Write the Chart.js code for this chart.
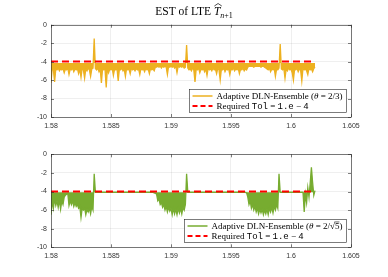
<!DOCTYPE html>
<html>
<head>
<meta charset="utf-8">
<script src="https://cdn.jsdelivr.net/npm/chart.js@4.4.1/dist/chart.umd.min.js"></script>
<style>
  html, body { margin: 0; padding: 0; background: #fff; }
  #wrap { position: relative; width: 388px; height: 277px; }
  #wrap canvas { position: absolute; left: 0; }
</style>
</head>
<body>
<div id="wrap">
  <canvas id="chartTop" width="388" height="140" style="top:0"></canvas>
  <canvas id="chartBot" width="388" height="137" style="top:140px"></canvas>
</div>
<script>
// sample grid of the time axis
const tStart = 1.58;
const tStep = 0.0001;

// EST of LTE, theta = 2/3 (one value per grid step)
const estTheta23 = [
  -6.3,-4.7,-4.9,-6.2,-4.8,-4.9,-4.7,-5.0,-4.8,-4.9,-4.75,-5.2,-4.8,-4.9,-4.7,-5.4,-4.8,-4.9,-4.7,-5.1,
  -4.8,-4.9,-4.75,-5.3,-4.8,-5.7,-4.7,-4.9,-5.8,-4.8,-5.0,-4.7,-4.9,-5.6,-4.8,-4.7,-1.5,-4.75,-4.9,-4.7,
  -5.1,-4.8,-6.3,-4.7,-4.9,-4.8,-6.8,-4.75,-5.2,-4.8,-4.9,-4.7,-5.5,-4.8,-4.9,-4.75,-6.1,-4.8,-4.9,-4.7,
  -5.0,-4.8,-5.6,-4.7,-4.9,-4.8,-5.3,-4.7,-4.9,-4.8,-5.0,-4.75,-4.9,-4.8,-5.4,-4.7,-4.9,-4.8,-5.1,-4.7,
  -4.9,-4.8,-5.3,-4.7,-4.9,-4.8,-5.0,-4.6,-4.6,-4.5,-4.6,-4.5,-4.7,-4.5,-4.6,-4.5,-4.6,-5.4,-4.5,-4.6,
  -4.5,-4.6,-4.5,-4.7,-4.5,-5.2,-4.5,-4.6,-4.5,-4.6,-4.5,-4.7,-4.6,-2.2,-4.7,-4.9,-4.8,-5.0,-4.7,-4.9,
  -6.2,-4.8,-4.9,-4.7,-5.2,-4.8,-4.9,-4.75,-5.1,-4.8,-5.5,-4.7,-4.9,-4.8,-5.0,-4.7,-4.9,-4.8,-5.3,-4.7,
  -4.9,-6.0,-4.8,-4.9,-4.7,-5.1,-4.8,-4.9,-4.75,-5.4,-4.8,-4.9,-4.7,-5.0,-4.8,-4.9,-4.7,-5.3,-4.8,-4.9,
  -4.7,-5.0,-4.8,-4.9,-4.6,-4.5,-4.5,-4.5,-4.5,-4.6,-4.5,-4.5,-4.5,-4.5,-4.5,-4.6,-4.5,-4.5,-4.6,-4.7,
  -4.8,-4.9,-4.7,-5.1,-4.8,-4.9,-4.7,-5.6,-4.8,-4.9,-4.7,-2.1,-4.8,-4.9,-4.7,-5.8,-4.8,-5.0,-4.7,-4.9,
  -4.8,-5.2,-6.0,-4.8,-4.9,-4.7,-5.1,-4.8,-4.9,-6.1,-4.7,-4.9,-4.8,-5.0,-5.4,-4.7,-4.9,-4.8,-5.1,-4.75,
  -4.6
];

// EST of LTE, theta = 2/sqrt(5)
const estThetaSqrt5 = [
  -6.5,-5.0,-5.8,-4.8,-5.5,-5.0,-5.7,-4.9,-5.9,-5.0,-5.4,-4.6,-4.4,-4.3,-4.2,
  -5.5,-5.0,-5.4,-5.0,-5.6,-5.2,-5.6,-5.4,-5.8,-5.6,-6.8,-5.8,-6.0,-5.8,-6.5,-5.9,-6.2,-5.8,-6.4,-5.6,-6.0,
  -2.1,-4.08,-4.08,-4.08,
  -4.08,-4.08,-4.08,-4.08,-4.08,-4.08,-4.08,-4.08,-4.08,-4.08,-4.08,-4.08,
  -4.08,-4.08,-4.08,-4.08,-4.08,-4.08,-4.08,-4.08,-4.08,-4.08,-4.08,-4.08,
  -4.08,-4.08,-4.08,-4.08,-4.08,-4.08,-4.08,-4.08,-4.08,-4.08,-4.08,-4.08,
  -4.08,-4.08,-4.08,-4.08,-4.08,-4.08,-4.08,-4.08,-4.08,-4.1,-4.15,-4.2,
  -4.3,-5.0,-4.8,-5.4,-5.2,-5.7,-5.4,-6.0,-5.6,-6.2,-5.7,-6.1,-5.8,-6.5,-5.8,-6.4,-5.9,-6.5,-5.8,-6.3,
  -5.8,-6.4,-5.7,-6.0,-5.4,
  -2.1,
  -4.08,-4.08,-4.08,-4.08,-4.08,-4.08,-4.08,-4.08,-4.08,-4.08,
  -4.08,-4.08,-4.08,-4.08,-4.08,-4.08,-4.08,-4.08,-4.08,-4.08,
  -4.08,-4.08,-4.08,-4.08,-4.08,-4.08,-4.08,-4.08,-4.08,-4.08,
  -4.08,-4.08,-4.08,-4.08,-4.08,-4.08,-4.08,-4.08,-4.08,-4.08,
  -4.08,-4.08,-4.08,-4.08,-4.08,-4.08,-4.08,-4.08,-4.1,-4.15,
  -4.6,
  -5.4,-5.0,-5.8,-5.4,-6.0,-5.6,-6.2,-5.8,-6.4,-5.9,-6.3,-5.9,-6.5,-6.0,-6.4,-5.9,-6.5,-5.8,-6.2,-5.7,
  -6.3,-5.6,-6.0,-5.4,-5.8,
  -2.1,
  -4.08,-4.08,-4.08,-4.08,-4.08,-4.08,-4.08,-4.08,-4.08,-4.08,
  -4.08,-4.08,-4.08,-4.08,-4.08,-4.08,-4.08,-4.08,-4.08,-4.08,
  -6.2,-4.3,-5.2,-3.6,-4.6,-3.1,-1.4,-3.0,-4.4,-3.9
];

// upper edge of the oscillation band of each series
const bandTop23 = -4.15;
const bandTopSqrt5 = -4.08;

// required tolerance line
const tolX = [1.58, 1.602];
const tolY = [-4, -4];

// axis ticks
const xTicks = [1.58, 1.585, 1.59, 1.595, 1.6, 1.605];
const yTicks = [0, -2, -4, -6, -8, -10];

const COLOR_23 = '#EDB120';
const COLOR_S5 = '#77AC30';
const COLOR_TOL = '#FF0000';
const AXIS_COLOR = '#262626';

const SERIF = '"Liberation Serif", "DejaVu Serif", serif';
const MONO = '"Liberation Mono", "DejaVu Sans Mono", monospace';
const SANS = '"Liberation Sans", Arial, sans-serif';

function toPoints(values) {
    return values.map((y, i) => ({ x: tStart + i * tStep, y }));
}

function tolPoints() {
    return tolX.map((x, i) => ({ x, y: tolY[i] }));
}

/* ==============================
   BOX + INNER TICKS (matlab style)
================================ */
const boxPlugin = {
    id: 'matlabBox',
    afterDatasetsDraw(chart) {
        const { ctx, chartArea: a, scales } = chart;
        const len = 3;
        ctx.save();
        ctx.strokeStyle = AXIS_COLOR;
        ctx.lineWidth = 0.6;
        ctx.beginPath();
        scales.x.ticks.forEach(t => {
            const px = Math.round(scales.x.getPixelForValue(t.value)) + 0.5;
            ctx.moveTo(px, a.bottom); ctx.lineTo(px, a.bottom - len);
            ctx.moveTo(px, a.top); ctx.lineTo(px, a.top + len);
        });
        scales.y.ticks.forEach(t => {
            const py = Math.round(scales.y.getPixelForValue(t.value)) + 0.5;
            ctx.moveTo(a.left, py); ctx.lineTo(a.left + len, py);
            ctx.moveTo(a.right, py); ctx.lineTo(a.right - len, py);
        });
        ctx.stroke();
        ctx.strokeRect(Math.round(a.left) + 0.5, Math.round(a.top) + 0.5,
            Math.round(a.right - a.left), Math.round(a.bottom - a.top));
        ctx.restore();
    }
};

/* ==============================
   LEGEND (lower right, inside axes)
================================ */
function fontFor(kind, size) {
    if (kind === 'mono') return `${size}px ${MONO}`;
    if (kind === 'italic') return `italic ${size}px ${SERIF}`;
    return `${size}px ${SERIF}`;
}

function partsWidth(ctx, parts, size) {
    let w = 0;
    parts.forEach(p => { ctx.font = fontFor(p.k, size); w += ctx.measureText(p.t).width; });
    return w;
}

const legendPlugin = {
    id: 'mathLegend',
    afterDraw(chart, args, opts) {
        const { ctx, chartArea: a } = chart;
        const size = opts.size;
        const rowH = 10;
        const sample = 20;
        let maxW = 0;
        opts.items.forEach(it => { maxW = Math.max(maxW, partsWidth(ctx, it.parts, size)); });
        const w = 3 + sample + 4 + maxW + 4;
        const h = opts.items.length * rowH + 3;
        const x0 = Math.round(a.right - opts.right - w) + 0.5;
        const y0 = Math.round(a.bottom - opts.bottom - h) + 0.5;

        ctx.save();
        ctx.fillStyle = '#fff';
        ctx.fillRect(x0, y0, w, h);
        ctx.strokeStyle = AXIS_COLOR;
        ctx.lineWidth = 0.6;
        ctx.strokeRect(x0, y0, w, h);

        opts.items.forEach((it, i) => {
            const cy = y0 + 1.5 + rowH * i + rowH / 2;
            ctx.strokeStyle = it.color;
            ctx.lineWidth = it.width;
            ctx.setLineDash(it.dash);
            ctx.beginPath();
            ctx.moveTo(x0 + 3, cy);
            ctx.lineTo(x0 + 3 + sample, cy);
            ctx.stroke();
            ctx.setLineDash([]);

            let tx = x0 + 3 + sample + 4;
            ctx.fillStyle = '#000';
            ctx.textBaseline = 'middle';
            it.parts.forEach(p => {
                ctx.font = fontFor(p.k, size);
                const pw = ctx.measureText(p.t).width;
                ctx.fillText(p.t, tx, cy + 0.5);
                if (p.over) {
                    ctx.strokeStyle = '#000';
                    ctx.lineWidth = 0.6;
                    ctx.beginPath();
                    ctx.moveTo(tx - 0.5, cy - size * 0.45);
                    ctx.lineTo(tx + pw, cy - size * 0.45);
                    ctx.stroke();
                }
                tx += pw;
            });
        });
        ctx.restore();
    }
};

/* ==============================
   TITLE  EST of LTE  T^_{n+1}
================================ */
const titlePlugin = {
    id: 'lteTitle',
    afterDraw(chart) {
        const { ctx, chartArea: a } = chart;
        const size = 11.5;
        const sub = 8;
        const main = 'EST of LTE ';
        ctx.save();
        ctx.fillStyle = '#000';
        ctx.textBaseline = 'alphabetic';
        ctx.font = `${size}px ${SERIF}`;
        const wMain = ctx.measureText(main).width;
        ctx.font = `italic ${size}px ${SERIF}`;
        const wT = ctx.measureText('T').width;
        ctx.font = `italic ${sub}px ${SERIF}`;
        const wN = ctx.measureText('n').width;
        ctx.font = `${sub}px ${SERIF}`;
        const wP = ctx.measureText('+1').width;
        const total = wMain + wT + wN + wP;
        let x = (a.left + a.right) / 2 - 7 - total / 2;
        const base = 15;

        ctx.font = `${size}px ${SERIF}`;
        ctx.fillText(main, x, base);
        x += wMain;
        ctx.font = `italic ${size}px ${SERIF}`;
        ctx.fillText('T', x, base);
        // hat over T
        ctx.strokeStyle = '#000';
        ctx.lineWidth = 0.7;
        ctx.beginPath();
        ctx.moveTo(x + 0.5, base - 9);
        ctx.lineTo(x + wT / 2 + 1, base - 11.5);
        ctx.lineTo(x + wT + 1.5, base - 9);
        ctx.stroke();
        x += wT;
        ctx.font = `italic ${sub}px ${SERIF}`;
        ctx.fillText('n', x, base + 2.5);
        x += wN;
        ctx.font = `${sub}px ${SERIF}`;
        ctx.fillText('+1', x, base + 2.5);
        ctx.restore();
    }
};

/* ==============================
   CHART BUILDER
================================ */
function buildChart(canvasId, values, bandTop, color, legendItems, pad, extraPlugins) {
    const ctx = document.getElementById(canvasId);
    return new Chart(ctx, {
        type: 'line',
        data: {
            datasets: [
                {
                    data: tolPoints(),
                    borderColor: COLOR_TOL,
                    borderWidth: 2,
                    borderDash: [7, 4],
                    pointRadius: 0,
                    fill: false,
                    order: 1
                },
                {
                    data: toPoints(values),
                    borderColor: color,
                    backgroundColor: color,
                    borderWidth: 1.3,
                    pointRadius: 0,
                    tension: 0,
                    fill: { value: bandTop },
                    order: 2
                }
            ]
        },
        options: {
            responsive: false,
            animation: false,
            events: [],
            layout: { padding: pad },
            plugins: {
                legend: { display: false },
                tooltip: { enabled: false },
                mathLegend: { items: legendItems, size: 9, right: 5, bottom: 5 }
            },
            scales: {
                x: {
                    type: 'linear',
                    min: 1.58,
                    max: 1.605,
                    afterBuildTicks: s => { s.ticks = xTicks.map(v => ({ value: v })); },
                    afterFit: s => { s.height = 14; },
                    grid: { color: 'rgba(38,38,38,0.13)', lineWidth: 0.6, drawTicks: false },
                    border: { display: false },
                    ticks: {
                        padding: 5,
                        color: '#333',
                        font: { family: SANS, size: 7 },
                        callback: v => String(Number(v.toFixed(3)))
                    }
                },
                y: {
                    type: 'linear',
                    min: -10,
                    max: 0,
                    afterBuildTicks: s => { s.ticks = yTicks.map(v => ({ value: v })); },
                    afterFit: s => { s.width = 51; },
                    grid: { color: 'rgba(38,38,38,0.13)', lineWidth: 0.6, drawTicks: false },
                    border: { display: false },
                    ticks: {
                        padding: 4,
                        color: '#333',
                        font: { family: SANS, size: 7 },
                        callback: v => String(v)
                    }
                }
            }
        },
        plugins: [boxPlugin, legendPlugin].concat(extraPlugins)
    });
}

const tolLegend = {
    color: COLOR_TOL, width: 2, dash: [5, 3],
    parts: [
        { t: 'Required ', k: 'serif' }, { t: 'Tol', k: 'mono' }, { t: ' = ', k: 'serif' },
        { t: '1.e', k: 'mono' }, { t: ' \u2212 ', k: 'serif' }, { t: '4', k: 'mono' }
    ]
};

buildChart('chartTop', estTheta23, bandTop23, COLOR_23, [
    {
        color: COLOR_23, width: 1.5, dash: [],
        parts: [
            { t: 'Adaptive DLN-Ensemble (', k: 'serif' }, { t: '\u03b8', k: 'italic' },
            { t: ' = 2/3)', k: 'serif' }
        ]
    },
    tolLegend
], { top: 24.7, left: 0, right: 37, bottom: 9 }, [titlePlugin]);

buildChart('chartBot', estThetaSqrt5, bandTopSqrt5, COLOR_S5, [
    {
        color: COLOR_S5, width: 1.5, dash: [],
        parts: [
            { t: 'Adaptive DLN-Ensemble (', k: 'serif' }, { t: '\u03b8', k: 'italic' },
            { t: ' = 2/\u221a', k: 'serif' }, { t: '5', k: 'serif', over: true }, { t: ')', k: 'serif' }
        ]
    },
    tolLegend
], { top: 14.3, left: 0, right: 37, bottom: 15.7 }, []);
</script>
</body>
</html>
